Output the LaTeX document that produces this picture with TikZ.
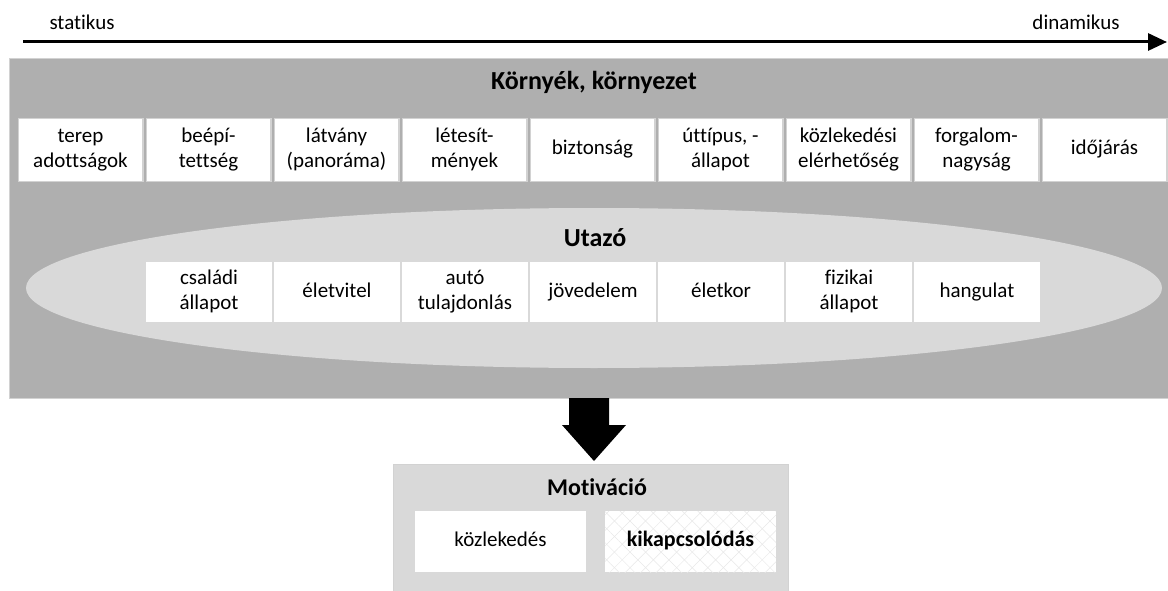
\documentclass[tikz,border=0pt]{standalone}
\usepackage{fontspec}
\setmainfont{Carlito}[Ligatures=NoCommon]
\usetikzlibrary{arrows.meta,patterns.meta,shapes.geometric}
\definecolor{outergray}{HTML}{AFAFAF}
\definecolor{innergray}{HTML}{D9D9D9}
\definecolor{edgegray}{HTML}{D2D2D2}

\begin{document}
\begin{tikzpicture}[x=1pt,y=-1pt,
  every node/.style={font=\fontsize{21}{25}\selectfont, align=center, inner sep=0pt},
  envcell/.style={fill=white, draw=edgegray, line width=1.2pt,
    minimum width=124.8pt, minimum height=62.8pt},
  travcell/.style={fill=white, minimum width=126pt, minimum height=60pt},
  motcell/.style={fill=white, minimum width=171pt, minimum height=61pt},
  heading/.style={font=\fontsize{26}{30}\selectfont\bfseries},
  hatch/.style={pattern={Lines[angle=#1,distance=11pt,line width=0.5pt]},
    pattern color=black!9},
]
\useasboundingbox (0,0) rectangle (1168,591);

% static -> dynamic axis
\node (stat) at (82,22) {statikus};
\node (dyn) at (1076,22) {dinamikus};
\coordinate (axl) at (23,42);
\coordinate (axr) at (1167,42);
\draw[line width=3pt, -{Triangle[length=19pt,width=17pt]}] (axl) -- (axr);

% environment panel
\node[fill=outergray, draw=edgegray, line width=0.8pt, anchor=north west,
  minimum width=1159pt, minimum height=340pt] (env) at (9,58) {};
\node[heading] (envtitle) at (594,82) {Környék, környezet};
\foreach \t [count=\i from 0] in {{terep\\adottságok},{beépí-\\tettség},
    {látvány\\(panoráma)},{létesít-\\mények},{biztonság},{úttípus, -\\állapot},
    {közlekedési\\elérhetőség},{forgalom-\\nagyság},{időjárás}}
  \node[envcell] (env\i) at ({80.5+128*\i},150) {\strut\t\strut};

% traveller ellipse
\node[ellipse, fill=innergray, minimum width=1136pt, minimum height=160pt] (trav) at (594,288) {};
\node[heading] (travtitle) at (595,238) {Utazó};
\foreach \t [count=\i from 0] in {{családi\\állapot},{életvitel},{autó\\tulajdonlás},
    {jövedelem},{életkor},{fizikai\\állapot},{hangulat}}
  \node[travcell] (trav\i) at ({209+128*\i},292) {\strut\t\strut};

% block arrow down to motivation
\fill[black] (569,398) -- (609,398) -- (609,425) -- (626,425) -- (594,461)
  -- (562,425) -- (569,425) -- cycle;

% motivation panel
\node[fill=innergray, draw=edgegray, line width=0.8pt, anchor=north west,
  minimum width=395pt, minimum height=127pt] (mot) at (393,464) {};
\node[heading, font=\fontsize{24}{28}\selectfont\bfseries] (mottitle) at (597,487) {Motiváció};
\node[motcell] (traffic) at (500.5,541.5) {\strut közlekedés\strut};
\node[motcell, font=\fontsize{22}{25}\selectfont\bfseries,
  postaction={hatch=45}, postaction={hatch=-45}] (relax) at (690.5,541.5)
  {\strut kikapcsolódás\strut};
\end{tikzpicture}
\end{document}
